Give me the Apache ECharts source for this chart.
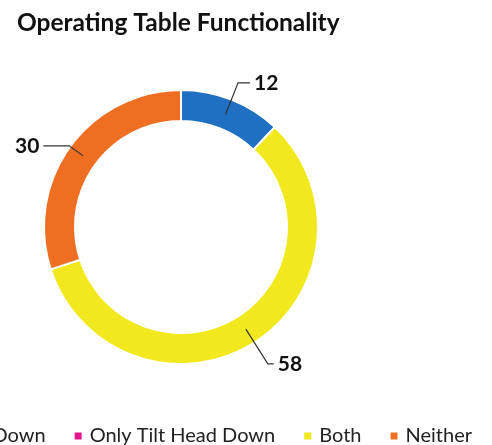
<!DOCTYPE html>
<html>
<head>
<meta charset="utf-8">
<script src="https://cdn.jsdelivr.net/npm/echarts@6/dist/echarts.min.js"></script>
<style>
html,body{margin:0;padding:0;background:#fff;overflow:hidden;width:492px;height:445px;position:relative;}
#chart{width:692px;height:445px;position:absolute;left:-200px;top:0;}
</style>
</head>
<body>
<div id="chart"></div>
<script>
const categories = ["Only Move Up/Down", "Only Tilt Head Down", "Both", "Neither"];
const values = [12, 0, 58, 30];
const colors = ["#1F6FC3", "#E2168C", "#F1E81E", "#EE6F22"];
const titleText = "Operating Table Functionality";

const OFF = 200; // chart canvas extends beyond the left edge of the window
const CX = OFF + 181, CY = 227, R_IN = 106, R_OUT = 137;
const R_MID = 121;
const lineLen = [34, 0, 41, 17];
const lineLen2 = [12, 0, 6, 26];

const chart = echarts.init(document.getElementById('chart'));

// visible donut
const ringData = categories.map((name, i) => ({
  name: name,
  value: values[i],
  itemStyle: { color: colors[i] }
}));
// label carrier: same values, transparent thin ring at mid radius so leader lines start inside the ring
const labelData = categories.map((name, i) => ({
  name: name,
  value: values[i],
  itemStyle: { color: 'rgba(0,0,0,0)' },
  label: { show: values[i] > 0 },
  labelLine: { show: values[i] > 0, length: lineLen[i], length2: lineLen2[i] }
}));

chart.setOption({
  animation: false,
  title: {
    text: titleText,
    left: OFF + 12,
    top: 6,
    textStyle: { fontFamily: 'Lato', fontWeight: 'bold', fontSize: 24.5, color: '#111' }
  },
  legend: {
    right: 15,
    top: 421,
    itemWidth: 9,
    itemHeight: 9,
    itemGap: 27,
    icon: 'rect',
    textStyle: { fontFamily: 'Lato', fontSize: 20, color: '#222', padding: [0, 0, 0, 2] },
    data: categories
  },
  series: [{
    type: 'pie',
    z: 2,
    center: [CX, CY],
    radius: [R_IN, R_OUT],
    startAngle: 90,
    clockwise: true,
    itemStyle: { borderColor: '#fff', borderWidth: 2 },
    label: { show: false },
    labelLine: { show: false },
    data: ringData
  }, {
    type: 'pie',
    z: 5,
    center: [CX, CY],
    radius: [R_MID - 1, R_MID],
    startAngle: 90,
    clockwise: true,
    silent: true,
    avoidLabelOverlap: false,
    label: {
      position: 'outside',
      formatter: '{c}',
      fontFamily: 'Lato',
      fontWeight: 'bold',
      fontSize: 21,
      color: '#111',
      distanceToLabelLine: 4
    },
    labelLine: { lineStyle: { color: '#333', width: 1.2 } },
    data: labelData
  }]
});
</script>
</body>
</html>
